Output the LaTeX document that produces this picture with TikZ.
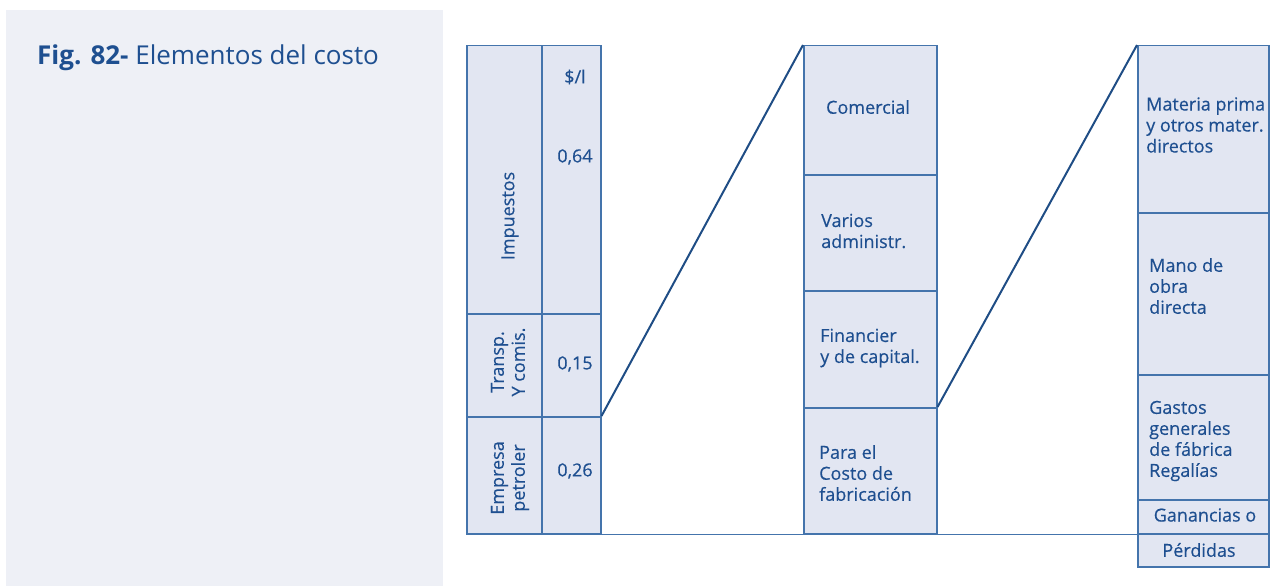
\documentclass[tikz,border=0pt]{standalone}
\usepackage{fontspec}
\setmainfont{Open Sans}
\usepackage{xcolor}
\usepackage{tikz}
\usetikzlibrary{positioning}

\definecolor{panelbg}{HTML}{EEF0F6}
\definecolor{cellfill}{HTML}{E2E6F2}
\definecolor{boxline}{HTML}{4474AC}
\definecolor{linkline}{HTML}{1F4D85}
\definecolor{txtblue}{HTML}{1E4F90}

\tikzset{
  cell/.style={draw=boxline, fill=cellfill, line width=1.5pt, inner sep=0pt, anchor=north west},
  txt/.style={text=txtblue, font=\fontsize{18}{21}\selectfont\addfontfeatures{FakeBold=0.35}, inner sep=0pt},
  link/.style={draw=linkline, line width=2pt},
  base/.style={draw=boxline, line width=1.5pt}
}

\begin{document}
\begin{tikzpicture}[x=1pt,y=-1pt]

\useasboundingbox (0,0) rectangle (1271,586);

% left panel with title
\fill[panelbg] (6,10) rectangle (443,586);
\node[anchor=base west, text=txtblue, font=\fontsize{26}{30}\selectfont, inner sep=0pt]
  (title) at (37,64) {\textbf{Fig. 82-} Elementos del costo};

%-------------------------------------------------
% Price column
%-------------------------------------------------

\node[cell, minimum width=75, minimum height=268] (imp) at (466,45) {};
\node[cell, minimum width=59, minimum height=268] (impv) at (541,45) {};
\node[cell, minimum width=75, minimum height=103] (tr) at (466,313) {};
\node[cell, minimum width=59, minimum height=103] (trv) at (541,313) {};
\node[cell, minimum width=75, minimum height=117] (ep) at (466,416) {};
\node[cell, minimum width=59, minimum height=117] (epv) at (541,416) {};

\node[txt, rotate=90] (impT) at (510,216) {Impuestos};
\node[txt] (unitT) at (575,77) {\$/l};
\node[txt] (impvT) at (575,157) {0,64};
\node[txt, rotate=90, align=center] (trT) at (508,362) {Transp.\\Y comis.};
\node[txt] (trvT) at (575,364) {0,15};
\node[txt, rotate=90, align=center] (epT) at (510,478) {Empresa\\petroler};
\node[txt] (epvT) at (575,471) {0,26};

%-------------------------------------------------
% Company costs
%-------------------------------------------------

\node[cell, minimum width=133, minimum height=129] (com) at (803,45) {};
\node[cell, minimum width=133, minimum height=116] (var) at (803,174) {};
\node[cell, minimum width=133, minimum height=117] (fin) at (803,290) {};
\node[cell, minimum width=133, minimum height=126] (fab) at (803,407) {};

\node[txt] (comT) at (868,107) {Comercial};
\node[txt, anchor=west, align=left] (varT) at (821,231) {Varios\\administr.};
\node[txt, anchor=west, align=left] (finT) at (820,348) {Financier\\y de capital.};
\node[txt, anchor=west, align=left] (fabT) at (819,473) {Para el\\Costo de\\fabricación};

%-------------------------------------------------
% Manufacturing costs
%-------------------------------------------------

\node[cell, minimum width=131, minimum height=167] (mat) at (1137,45) {};
\node[cell, minimum width=131, minimum height=162] (mano) at (1137,212) {};
\node[cell, minimum width=131, minimum height=125] (gas) at (1137,374) {};
\node[cell, minimum width=131, minimum height=34] (gan) at (1137,499) {};
\node[cell, minimum width=131, minimum height=33] (per) at (1137,533) {};

\node[txt, anchor=west, align=left] (matT) at (1146,125) {Materia prima\\y otros mater.\\directos};
\node[txt, anchor=west, align=left] (manoT) at (1149,286) {Mano de\\obra\\directa};
\node[txt, anchor=west, align=left] (gasT) at (1149,441) {Gastos\\generales\\de fábrica\\Regalías};
\node[txt] (ganT) at (1205,515) {Ganancias o};
\node[txt] (perT) at (1199,550) {Pérdidas};

%-------------------------------------------------
% Connecting lines
%-------------------------------------------------

\draw[link] (epv.north east) -- (com.north west);
\draw[link] (fab.north east) -- (mat.north west);
\draw[base] (ep.south west) -- (gan.south east);

\end{tikzpicture}
\end{document}
